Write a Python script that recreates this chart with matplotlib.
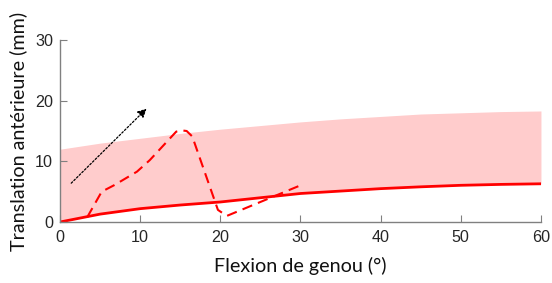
import matplotlib
matplotlib.use("Agg")
import matplotlib.pyplot as plt
import numpy as np

# Data
flex = [0, 5, 10, 15, 20, 25, 30, 35, 40, 45, 50, 55, 60]
band_upper = [12.0, 13.0, 13.8, 14.6, 15.3, 15.9, 16.5, 17.0, 17.4, 17.8, 18.0, 18.2, 18.3]
solid_y = [0.0, 1.3, 2.2, 2.8, 3.3, 4.0, 4.7, 5.1, 5.5, 5.8, 6.05, 6.2, 6.3]

dash_x = [3.4, 5.2, 6.8, 9.6, 11.2, 14.5, 15.2, 15.8, 16.5, 19.7, 20.8, 30.1]
dash_y = [0.8, 5.0, 6.1, 8.3, 10.2, 14.9, 15.1, 15.0, 14.1, 2.0, 1.0, 6.1]

arrow_start = (1.4, 6.4)
arrow_end = (10.8, 18.7)

xticks = [0, 10, 20, 30, 40, 50, 60]
yticks = [0, 10, 20, 30]

fig = plt.figure(figsize=(5.52, 2.83), dpi=100)
ax = fig.add_axes([0.1087, 0.2155, 0.8713, 0.6432])

ax.fill_between(flex, solid_y, band_upper, color='#FFCCCC', linewidth=0)
ax.plot(flex, solid_y, color='#FF0000', linewidth=2)
ax.plot(dash_x, dash_y, color='#FF0000', linewidth=1.5, linestyle=(0, (5, 3)))
ax.annotate('', xy=arrow_end, xytext=arrow_start,
            arrowprops=dict(arrowstyle='-|>', color='black', linestyle=(0, (1.5, 1.5)),
                            linewidth=0.9, mutation_scale=13, shrinkA=0, shrinkB=0))

ax.set_xlim(0, 60)
ax.set_ylim(0, 30)
ax.set_xticks(xticks)
ax.set_yticks(yticks)
for s in ['top', 'right']:
    ax.spines[s].set_visible(False)
for s in ['left', 'bottom']:
    ax.spines[s].set_color('#808080')
    ax.spines[s].set_linewidth(1.0)
ax.tick_params(direction='in', length=5, color='#808080', labelcolor='#262626',
               labelsize=11.6)
ax.tick_params(axis='x', pad=6)
ax.tick_params(axis='y', pad=5)
for lab in ax.get_xticklabels() + ax.get_yticklabels():
    lab.set_family(['Liberation Sans', 'DejaVu Sans'])

ax.set_xlabel('Flexion de genou (°)', fontsize=14.2, family=['Lato', 'DejaVu Sans'],
              color='#111111', labelpad=8)
ax.set_ylabel('Translation antérieure (mm)', fontsize=14.2, family=['Lato', 'DejaVu Sans'],
              color='#111111', labelpad=6)

fig.savefig('out.png', dpi=100)
